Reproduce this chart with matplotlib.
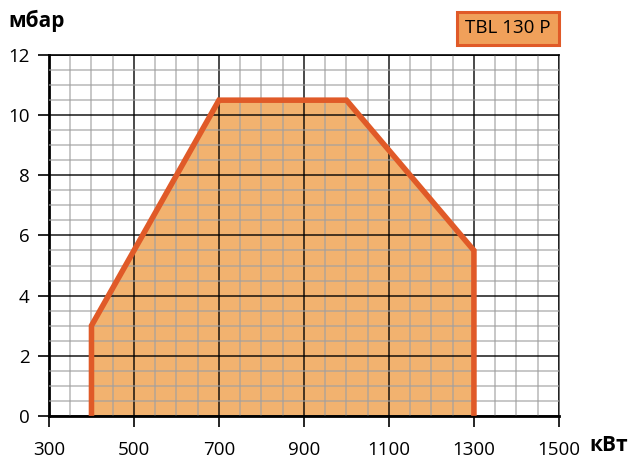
import matplotlib.pyplot as plt
from matplotlib.patches import Rectangle
from matplotlib.ticker import MultipleLocator

# envelope of working field
power_kw = [400, 400, 700, 1000, 1300, 1300]
pressure_mbar = [0, 3, 10.5, 10.5, 5.5, 0]
model_name = "TBL 130 P"

x_ticks = [300, 500, 700, 900, 1100, 1300, 1500]
y_ticks = [0, 2, 4, 6, 8, 10, 12]

plt.rcParams['font.family'] = ['Open Sans', 'DejaVu Sans']

fig = plt.figure(figsize=(6.28, 4.59), dpi=100)
ax = fig.add_axes([0.078, 0.094, 0.812, 0.786])

ax.fill(power_kw, pressure_mbar, color='#F2B26F', zorder=1, lw=0)
ax.plot(power_kw, pressure_mbar, color='#E05A28', lw=4, solid_joinstyle='miter',
        solid_capstyle='butt', zorder=4)

ax.set_xlim(300, 1500)
ax.set_ylim(0, 12)
ax.set_xticks(x_ticks)
ax.set_yticks(y_ticks)
ax.xaxis.set_minor_locator(MultipleLocator(50))
ax.yaxis.set_minor_locator(MultipleLocator(0.5))
ax.grid(which='major', color='black', lw=1.1, alpha=0.9, zorder=2.5)
ax.grid(which='minor', color='#a0a0a0', lw=1.1, alpha=0.75, zorder=2)
ax.set_axisbelow(False)
ax.tick_params(which='minor', length=0)
ax.tick_params(which='major', length=8, width=1.2, labelsize=13.5, pad=6)
ax.tick_params(axis='x', pad=10)

for side in ['left', 'bottom']:
    ax.spines[side].set_linewidth(2)
ax.spines['top'].set_linewidth(1.2)
ax.spines['right'].set_linewidth(1.2)
ax.spines['right'].set_color('#555555')

fig.text(0.013, 0.955, "мбар", fontsize=15, fontweight='bold', va='center', ha='left')
fig.text(0.938, 0.030, "кВт", fontsize=15, fontweight='bold', va='center', ha='left')

# model label box
fig.patches.append(Rectangle((0.728, 0.902), 0.162, 0.072, transform=fig.transFigure,
                             fc='#F0A05A', ec='#E05A28', lw=2.2))
fig.text(0.809, 0.938, model_name, fontsize=13.5, ha='center', va='center')

fig.savefig('out.png', dpi=100)
